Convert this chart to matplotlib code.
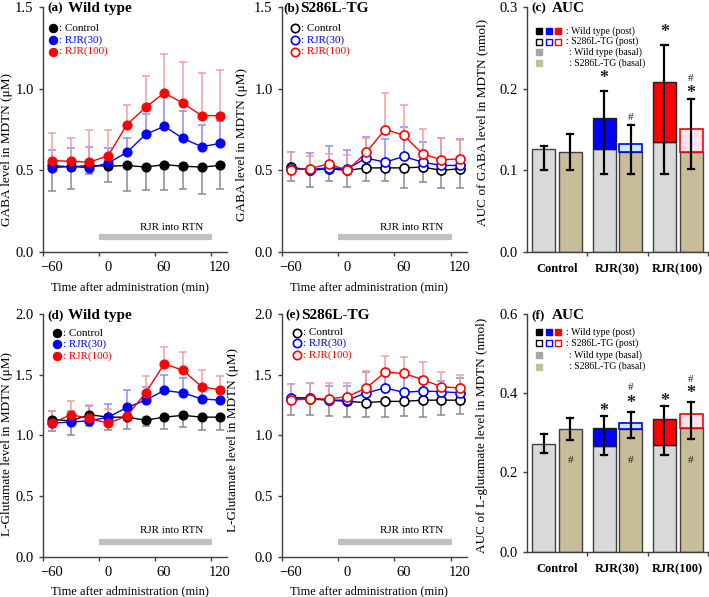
"""Microdialysis GABA / L-glutamate time courses and AUC, WT vs S286L-TG."""

import matplotlib
matplotlib.use("Agg")
import matplotlib.pyplot as plt
import matplotlib.transforms as mtrans
import numpy as np

plt.rcParams["font.family"] = ["Liberation Serif", "DejaVu Serif"]
plt.rcParams["axes.unicode_minus"] = True

# ---- time course data ----
t = [-50, -30, -10, 10, 30, 50, 70, 90, 110, 130]

gaba_wt_ctrl = [0.53, 0.52, 0.53, 0.525, 0.53, 0.52, 0.535, 0.525, 0.52, 0.53]
gaba_wt_ctrl_lo = [0.375, 0.384, 0.48, 0.427, 0.373, 0.38, 0.38, 0.386, 0.353, 0.384]
gaba_wt_30 = [0.515, 0.525, 0.515, 0.545, 0.61, 0.72, 0.77, 0.695, 0.645, 0.665]
gaba_wt_30_hi = [0.625, 0.635, 0.64, 0.635, 0.70, 0.845, 0.96, 0.865, 0.775, 0.80]
gaba_wt_100 = [0.56, 0.555, 0.55, 0.59, 0.78, 0.885, 0.975, 0.91, 0.835, 0.835]
gaba_wt_100_hi = [0.73, 0.695, 0.745, 0.745, 0.90, 1.075, 1.215, 1.165, 1.095, 1.115]

gaba_tg_ctrl = [0.52, 0.50, 0.51, 0.50, 0.515, 0.515, 0.515, 0.52, 0.50, 0.51]
gaba_tg_ctrl_lo = [0.435, 0.40, 0.435, 0.395, 0.435, 0.435, 0.39, 0.43, 0.39, 0.39]
gaba_tg_30 = [0.51, 0.505, 0.515, 0.51, 0.575, 0.55, 0.585, 0.55, 0.53, 0.53]
gaba_tg_30_hi = [0.615, 0.605, 0.65, 0.625, 0.705, 0.69, 0.765, 0.675, 0.70, 0.69]
gaba_tg_100 = [0.505, 0.51, 0.54, 0.50, 0.61, 0.75, 0.715, 0.60, 0.565, 0.57]
gaba_tg_100_hi = [0.615, 0.585, 0.60, 0.595, 0.70, 0.975, 0.90, 0.755, 0.695, 0.685]

glu_wt_ctrl = [1.13, 1.12, 1.17, 1.15, 1.15, 1.125, 1.15, 1.165, 1.15, 1.15]
glu_wt_ctrl_lo = [1.036, 1.0, 1.077, 1.04, 1.05, 1.08, 1.05, 1.07, 1.04, 1.04]
glu_wt_30 = [1.10, 1.11, 1.12, 1.15, 1.23, 1.29, 1.37, 1.35, 1.30, 1.29]
glu_wt_30_hi = [1.20, 1.20, 1.24, 1.26, 1.37, 1.40, 1.50, 1.47, 1.40, 1.36]
glu_wt_100 = [1.10, 1.17, 1.14, 1.10, 1.16, 1.35, 1.59, 1.535, 1.40, 1.375]
glu_wt_100_hi = [1.20, 1.285, 1.25, 1.215, 1.25, 1.49, 1.725, 1.69, 1.535, 1.49]

glu_tg_ctrl = [1.30, 1.30, 1.29, 1.28, 1.27, 1.28, 1.28, 1.29, 1.29, 1.29]
glu_tg_ctrl_lo = [1.17, 1.17, 1.16, 1.155, 1.155, 1.155, 1.16, 1.15, 1.165, 1.175]
glu_tg_30 = [1.31, 1.31, 1.29, 1.29, 1.35, 1.39, 1.355, 1.365, 1.36, 1.35]
glu_tg_30_hi = [1.42, 1.43, 1.41, 1.41, 1.52, 1.53, 1.49, 1.48, 1.45, 1.47]
glu_tg_100 = [1.29, 1.30, 1.30, 1.32, 1.39, 1.52, 1.51, 1.46, 1.40, 1.39]
glu_tg_100_hi = [1.42, 1.435, 1.435, 1.43, 1.53, 1.655, 1.645, 1.605, 1.52, 1.50]

# ---- AUC data: groups Control / RJR(30) / RJR(100) ----
groups = ["Control", "RJR(30)", "RJR(100)"]
gaba_wt_basal = [0.1265, 0.1257, 0.135]
gaba_wt_post = [0.1265, 0.164, 0.208]
gaba_wt_err = [(0.100, 0.130), (0.095, 0.197), (0.096, 0.253)]
gaba_tg_basal = [0.1229, 0.122, 0.1225]
gaba_tg_post = [0.1229, 0.1327, 0.151]
gaba_tg_err = [(0.101, 0.144), (0.095, 0.155), (0.102, 0.187)]
gaba_marks = [(1, "wt", "*", 0.212), (1, "tg", "#", 0.165),
              (2, "wt", "*", 0.269), (2, "tg", "*", 0.194), (2, "tg", "#", 0.212)]

glu_wt_basal = [0.273, 0.268, 0.270]
glu_wt_post = [0.273, 0.312, 0.336]
glu_wt_err = [(0.248, 0.298), (0.245, 0.342), (0.245, 0.367)]
glu_tg_basal = [0.310, 0.310, 0.312]
glu_tg_post = [0.310, 0.326, 0.347]
glu_tg_err = [(0.283, 0.338), (0.287, 0.352), (0.285, 0.378)]
glu_marks = [(0, "tg", "#", 0.231), (1, "tg", "#", 0.231), (2, "tg", "#", 0.231),
             (1, "wt", "*", 0.355), (1, "tg", "*", 0.375), (1, "tg", "#", 0.415),
             (2, "wt", "*", 0.378), (2, "tg", "*", 0.399), (2, "tg", "#", 0.435)]

BLUE = "#0000ff"
RED = "#ff0000"
ERR_COL = {"k": "#8a8a8a", "b": "#8a8aff", "r": "#f2a0a0"}
WT_BASAL = "#d9d9d9"
TG_BASAL = "#c8bd98"
TG_POST = {1: "#c4ecfb", 2: "#fde2f1"}

W, H = 709, 597
fig = plt.figure(figsize=(W / 100, H / 100), dpi=100)


def px_axes(left, top, right, bottom):
    return fig.add_axes([left / W, 1 - bottom / H, (right - left) / W, (bottom - top) / H])


def style(ax):
    for s in ("top", "right"):
        ax.spines[s].set_visible(False)
    for s in ("left", "bottom"):
        ax.spines[s].set_color("#404040")
        ax.spines[s].set_linewidth(1.0)
    ax.tick_params(direction="out", length=3, width=1, color="#404040", labelsize=10.5)


def time_panel(ax, series, ymax, yticks, bar_y, text_y, filled, leg_x, leg_txt_x, leg_y):
    style(ax)
    ax.set_xlim(-60, 137)
    ax.set_ylim(0, ymax)
    ax.set_xticks([-60, 0, 60, 120])
    ax.set_yticks(yticks)
    ax.set_yticklabels([f"{v:.1f}" for v in yticks])
    off = mtrans.ScaledTranslation(9 / 100, 0, fig.dpi_scale_trans)
    for lab in ax.get_xticklabels():
        lab.set_transform(lab.get_transform() + off)
    for y, ylo, yhi, col, ec in series:
        lo = np.zeros(len(y)) if ylo is None else np.array(y) - np.array(ylo)
        hi = np.zeros(len(y)) if yhi is None else np.array(yhi) - np.array(y)
        ax.errorbar(t, y, yerr=[lo, hi], fmt="none", ecolor=ERR_COL[ec], elinewidth=1.1,
                    capsize=2.8, capthick=1.1, zorder=2)
    for y, ylo, yhi, col, ec in series:
        face = col if filled else "white"
        ax.plot(t, y, "-", color=col, lw=1.0, zorder=3)
        ax.plot(t, y, "o", ms=6.5, mfc=face, mec=col, mew=1.2 if not filled else 0.8, zorder=4)
    ax.plot([0, 121], [bar_y, bar_y], color="#c0c0c0", lw=4.5, solid_capstyle="butt", zorder=1)
    ax.text(78, text_y, "RJR into RTN", ha="center", va="center", fontsize=8)
    names = [("Control", "black"), ("RJR(30)", BLUE), ("RJR(100)", RED)]
    for (name, col), yy in zip(names, leg_y):
        ax.plot([leg_x], [yy], "o", ms=6, mfc=col if filled else "white", mec=col,
                mew=0.8 if filled else 1.2, transform=ax.transAxes, clip_on=False)
        ax.text(leg_txt_x, yy, ": " + name, color=col, fontsize=8, va="center",
                transform=ax.transAxes)
    ax.set_xlabel("Time after administration (min)", fontsize=9)
    ax.xaxis.set_label_coords(0.474, -0.118)


def title(ax, tag, name, x_tag, x_name, tag_size=9.5, name_size=11):
    ax.text(x_tag, 0.995, tag, transform=ax.transAxes, fontsize=tag_size, fontweight="bold",
            va="center", ha="left")
    ax.text(x_name, 0.995, name, transform=ax.transAxes, fontsize=name_size,
            fontweight="bold", va="center", ha="left")


def auc_panel(ax, wt_b, wt_p, wt_e, tg_b, tg_p, tg_e, marks, ymax, yticks, leg_y):
    style(ax)
    x = np.arange(len(groups))
    bw, d = 0.38, 0.22
    ax.set_xlim(-0.5, 2.5)
    ax.set_ylim(0, ymax)
    ax.set_yticks(yticks)
    ax.set_yticklabels([f"{v:.1f}" for v in yticks])
    post_wt = ["none", BLUE, RED]
    edge_tg = ["#404040", BLUE, RED]
    for i in x:
        ax.bar(i - d, wt_b[i], bw, color=WT_BASAL, edgecolor="#404040", lw=1.0, zorder=2)
        ax.bar(i + d, tg_b[i], bw, color=TG_BASAL, edgecolor="#404040", lw=1.0, zorder=2)
        if i > 0:
            ax.bar(i - d, wt_p[i] - wt_b[i], bw, bottom=wt_b[i], color=post_wt[i],
                   edgecolor="#202020", lw=1.0, zorder=2)
            ax.bar(i + d, tg_p[i] - tg_b[i], bw, bottom=tg_b[i], color=TG_POST[i],
                   edgecolor=edge_tg[i], lw=1.2, zorder=2)
        for xx, (lo, hi) in ((i - d, wt_e[i]), (i + d, tg_e[i])):
            ax.plot([xx, xx], [lo, hi], color="black", lw=1.6, zorder=3)
            for yy in (lo, hi):
                ax.plot([xx - 0.05, xx + 0.05], [yy, yy], color="black", lw=1.6, zorder=3)
    for gi, who, sym, yy in marks:
        xx = gi - d if who == "wt" else gi + d
        if sym == "*":
            ax.text(xx, yy, "*", ha="center", va="center", fontsize=13, fontweight="bold",
                    color="#202020", zorder=4)
        else:
            ax.text(xx, yy, "#", ha="center", va="center", fontsize=8, color="#202020",
                    zorder=4)
    ax.set_xticks(x)
    ax.set_xticklabels(groups, fontsize=9, fontweight="bold")
    ax.tick_params(axis="x", length=0, pad=8)
    ax.set_xticks([0.5, 1.5, 2.5], minor=True)
    ax.tick_params(axis="x", which="minor", length=3, width=1, color="#404040")
    # legend drawn by hand like the original
    sq_x = [0.0695, 0.121, 0.174]
    for sx, c in zip(sq_x, ["black", BLUE, RED]):
        ax.plot([sx], [leg_y[0]], "s", ms=5, mfc=c, mec=c, transform=ax.transAxes)
        ax.plot([sx], [leg_y[1]], "s", ms=5, mfc="white", mec=c, mew=1.0,
                transform=ax.transAxes)
    ax.plot([sq_x[0]], [leg_y[2]], "s", ms=5, mfc="#a6a6a6", mec="#a6a6a6",
            transform=ax.transAxes)
    ax.plot([sq_x[0]], [leg_y[3]], "s", ms=5, mfc=TG_BASAL, mec=TG_BASAL,
            transform=ax.transAxes)
    labels = [": Wild type (post)", ": S286L-TG (post)", ": Wild type (basal)",
              ": S286L-TG (basal)"]
    for k, (lab, yy) in enumerate(zip(labels, leg_y)):
        ax.text(0.217 if k < 2 else 0.233, yy, lab, fontsize=7, va="center",
                transform=ax.transAxes)


# panel (a)
ax_a = px_axes(42.7, 7, 227, 252)
time_panel(ax_a, [(gaba_wt_ctrl, gaba_wt_ctrl_lo, None, "black", "k"),
                  (gaba_wt_30, None, gaba_wt_30_hi, BLUE, "b"),
                  (gaba_wt_100, None, gaba_wt_100_hi, RED, "r")],
           1.5, [0.0, 0.5, 1.0, 1.5], 0.092, 0.153, True, 0.056, 0.09, [0.913, 0.865, 0.818])
ax_a.set_ylabel("GABA level in MDTN (μM)", fontsize=9.5)
ax_a.yaxis.set_label_coords(-0.163, 0.42)
title(ax_a, "(a)", "Wild type", 0.023, 0.137)

# panel (b)
ax_b = px_axes(281.7, 7, 466.7, 252)
time_panel(ax_b, [(gaba_tg_ctrl, gaba_tg_ctrl_lo, None, "black", "k"),
                  (gaba_tg_30, None, gaba_tg_30_hi, BLUE, "b"),
                  (gaba_tg_100, None, gaba_tg_100_hi, RED, "r")],
           1.5, [0.0, 0.5, 1.0, 1.5], 0.092, 0.153, False, 0.072, 0.104, [0.913, 0.865, 0.818])
ax_b.set_ylabel("GABA level in MDTN (μM)", fontsize=9.5)
ax_b.yaxis.set_label_coords(-0.182, 0.437)
title(ax_b, "(b)", "S286L-TG", 0.007, 0.098, tag_size=9.5)

# panel (c)
ax_c = px_axes(526.7, 7, 708, 252)
auc_panel(ax_c, gaba_wt_basal, gaba_wt_post, gaba_wt_err, gaba_tg_basal, gaba_tg_post,
          gaba_tg_err, gaba_marks, 0.3, [0.0, 0.1, 0.2, 0.3], [0.903, 0.859, 0.815, 0.770])
ax_c.set_ylabel("AUC of GABA level in MDTN (nmol)", fontsize=9.5)
ax_c.yaxis.set_label_coords(-0.21, 0.53)
title(ax_c, "(c)", "AUC", 0.028, 0.138)

# panel (d)
ax_d = px_axes(42.7, 314, 227, 556.7)
time_panel(ax_d, [(glu_wt_ctrl, glu_wt_ctrl_lo, None, "black", "k"),
                  (glu_wt_30, None, glu_wt_30_hi, BLUE, "b"),
                  (glu_wt_100, None, glu_wt_100_hi, RED, "r")],
           2.0, [0.0, 0.5, 1.0, 1.5, 2.0], 0.124, 0.22, True, 0.076, 0.112,
           [0.920, 0.875, 0.827])
ax_d.set_ylabel("L-Glutamate level in MDTN (μM)", fontsize=9.5)
ax_d.yaxis.set_label_coords(-0.163, 0.464)
title(ax_d, "(d)", "Wild type", 0.023, 0.137)

# panel (e)
ax_e = px_axes(281.7, 314, 466.7, 556.7)
time_panel(ax_e, [(glu_tg_ctrl, glu_tg_ctrl_lo, None, "black", "k"),
                  (glu_tg_30, None, glu_tg_30_hi, BLUE, "b"),
                  (glu_tg_100, None, glu_tg_100_hi, RED, "r")],
           2.0, [0.0, 0.5, 1.0, 1.5, 2.0], 0.124, 0.214, False, 0.081, 0.114,
           [0.923, 0.879, 0.831])
ax_e.set_ylabel("L-Glutamate level in MDTN (μM)", fontsize=9.5)
ax_e.yaxis.set_label_coords(-0.23, 0.48)
title(ax_e, "(e)", "S286L-TG", 0.018, 0.108, tag_size=9.5)

# panel (f)
ax_f = px_axes(526.7, 314, 708, 551.7)
auc_panel(ax_f, glu_wt_basal, glu_wt_post, glu_wt_err, glu_tg_basal, glu_tg_post,
          glu_tg_err, glu_marks, 0.6, [0.0, 0.2, 0.4, 0.6], [0.923, 0.877, 0.828, 0.779])
ax_f.set_ylabel("AUC of L-glutamate level in MDTN (nmol)", fontsize=9.5)
ax_f.yaxis.set_label_coords(-0.215, 0.49)
title(ax_f, "(f)", "AUC", 0.028, 0.138)

fig.savefig("out.png", dpi=100)
